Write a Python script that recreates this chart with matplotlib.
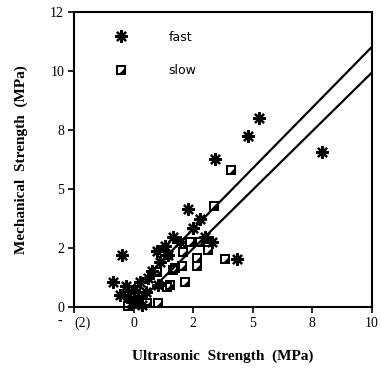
import numpy as np
import matplotlib.pyplot as plt
from matplotlib.path import Path

# axis positions are evenly spaced, labels are as printed on the original figure
x_tick_labels = ['(2)', '0', '2', '5', '8', '10']
y_tick_labels = ['0', '2', '5', '8', '10', '12']

# points (in tick-step units)
fast_x = [4.16, 3.10, 2.92, 2.37, 2.73, 1.91, 2.11, 2.00, 2.32, 1.66, 1.39, 0.81, 0.65, 0.77, 0.91,
          1.01, 1.11, 1.21, 0.97, 1.24, 1.07, 0.87, 1.31, 1.44, 1.53, 1.78, 1.41, 2.20, 1.14, 1.58]
fast_y = [2.63, 3.20, 2.90, 2.51, 0.81, 1.66, 1.49, 1.34, 1.10, 1.19, 0.95, 0.88, 0.42, 0.20, 0.17,
          0.29, 0.42, 0.25, 0.08, 0.49, 0.15, 0.36, 0.61, 0.76, 1.03, 1.10, 0.37, 1.19, 0.03, 0.88]

slow_x = [2.63, 2.35, 2.53, 1.95, 2.11, 1.83, 2.06, 1.81, 1.69, 1.86, 1.39, 1.61, 1.66, 1.06, 1.22,
          1.41, 1.56, 2.25, 2.06, 1.58, 0.91]
slow_y = [2.32, 1.71, 0.81, 1.10, 1.10, 0.93, 0.69, 0.69, 0.66, 0.42, 0.59, 0.37, 0.63, 0.05, 0.07,
          0.07, 0.34, 0.97, 0.83, 0.88, 0.02]

# fitted lines: slope, intercept, x range
fit_fast = (1.03, -0.74, 0.9, 5.0)
fit_slow = (0.995, -1.0, 1.1, 5.0)

# square with white inside and a black corner triangle
verts = [(-1, -1), (1, -1), (1, 1), (-1, 1), (-1, -1),
         (-0.5, -0.5), (-0.5, 0.5), (0.5, 0.5), (0.5, -0.5), (-0.5, -0.5),
         (-0.15, -0.5), (0.5, -0.5), (0.5, 0.15), (-0.15, -0.5)]
codes = ([Path.MOVETO] + [Path.LINETO] * 3 + [Path.CLOSEPOLY]) * 2 + \
        [Path.MOVETO, Path.LINETO, Path.LINETO, Path.CLOSEPOLY]
slow_marker = Path(verts, codes)

fig = plt.figure(figsize=(3.81, 3.68), dpi=100)
ax = fig.add_axes([0.194, 0.166, 0.782, 0.801])

for slope, icpt, x0, x1 in [fit_fast, fit_slow]:
    xs = np.array([x0, x1])
    ax.plot(xs, slope * xs + icpt, color='black', lw=1.6)

ax.plot(slow_x, slow_y, ls='none', marker=slow_marker, ms=7.5, color='black',
        mfc='black', mec='black', mew=0, clip_on=False, label='slow')
# asterisk: thin spokes over a small solid core
ax.plot(fast_x, fast_y, ls='none', marker=(8, 2, 0), ms=9, color='black',
        mew=1.6, clip_on=False)
ax.plot(fast_x, fast_y, ls='none', marker='s', ms=4.5, color='black',
        mew=0, clip_on=False)
fast_handle = ax.plot([], [], ls='none', marker=(8, 2, 0), ms=9, color='black',
                      mew=1.6)[0]

ax.set_xlim(0, 5)
ax.set_ylim(0, 5)
ax.set_xticks(range(6))
ax.set_yticks(range(6))
ax.set_xticklabels(x_tick_labels, family='Liberation Serif', fontsize=10)
ax.set_yticklabels(y_tick_labels, family='Liberation Serif', fontsize=10)
ax.get_xticklabels()[0].set_horizontalalignment('left')
ax.text(-0.235, -0.25, '-', transform=ax.transData, ha='center', va='center',
        family='Liberation Serif', fontsize=10, clip_on=False)
ax.tick_params(direction='out', length=4, width=1.2, pad=3)
for s in ax.spines.values():
    s.set_linewidth(1.5)

ax.set_xlabel('Ultrasonic  Strength  (MPa)', family='Liberation Serif', fontweight='bold',
              fontsize=11, labelpad=14)
ax.set_ylabel('Mechanical  Strength  (MPa)', family='Liberation Serif', fontweight='bold',
              fontsize=11, labelpad=16)

slow_handle = ax.get_legend_handles_labels()[0][0]
ax.legend([fast_handle, slow_handle], ['fast', 'slow'], loc='upper left',
          bbox_to_anchor=(0.1, 0.975), frameon=False, labelspacing=1.65,
          handletextpad=3.3, handlelength=1.0,
          prop={'family': 'DejaVu Sans', 'size': 9})

plt.savefig('out.png', dpi=100)
